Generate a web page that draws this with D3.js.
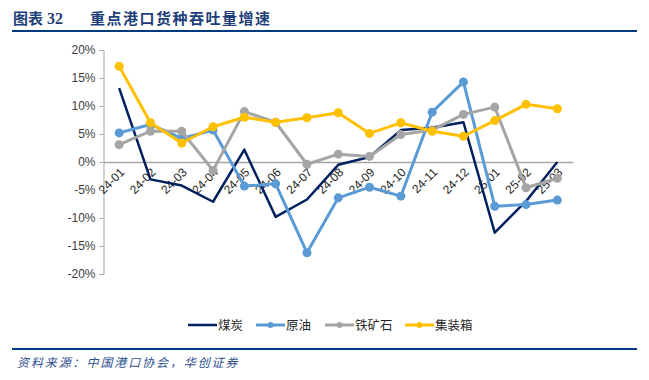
<!DOCTYPE html>
<html><head><meta charset="utf-8">
<script src="https://cdn.jsdelivr.net/npm/d3@7/dist/d3.min.js"></script>
<style>
html,body{margin:0;padding:0;background:#fff;}
svg{display:block;}
</style></head>
<body>
<svg id="c" width="649" height="380"></svg>
<script>
const categories = ["24-01","24-02","24-03","24-04","24-05","24-06","24-07","24-08","24-09","24-10","24-11","24-12","25-01","25-02","25-03"];
const coal      = [13.2,-3.1,-4.2,-7.1,2.2,-9.8,-6.7,-0.5,0.9,5.7,6.1,7.1,-12.6,-7.0,0.0];
const crudeOil  = [5.2,6.7,4.2,5.7,-4.3,-3.9,-16.2,-6.4,-4.5,-6.1,8.9,14.3,-7.9,-7.6,-6.8];
const ironOre   = [3.1,5.5,5.5,-1.5,9.0,7.1,-0.4,1.4,1.0,4.9,5.7,8.5,9.8,-4.6,-2.9];
const container = [17.1,7.0,3.4,6.3,8.0,7.1,7.9,8.8,5.1,7.0,5.5,4.6,7.4,10.3,9.5];
const yTicks = [-20,-15,-10,-5,0,5,10,15,20];
const seriesNames = ["煤炭","原油","铁矿石","集装箱"];
const titleLabel = "图表";
const titleNumber = "32";
const titleText = "重点港口货种吞吐量增速";
const sourceText = "资料来源：中国港口协会，华创证券";

const series = [
  {name: seriesNames[0], values: coal, color: "#002060", width: 2.5, marker: false},
  {name: seriesNames[1], values: crudeOil, color: "#5b9bd5", width: 3, marker: true},
  {name: seriesNames[2], values: ironOre, color: "#a5a5a5", width: 3, marker: true},
  {name: seriesNames[3], values: container, color: "#ffc000", width: 3, marker: true}
];

const svg = d3.select("#c");
const font = "Arial, 'Liberation Sans', 'Noto Sans CJK SC', sans-serif";
const cjk = "'Noto Sans CJK SC', sans-serif";
const titleColor = "#1f3f7a";

// Title
svg.append("text").attr("x", 13).attr("y", 24)
  .attr("font-family", cjk).attr("font-weight", "bold").attr("font-size", 15)
  .attr("fill", titleColor).text(titleLabel);
svg.append("text").attr("x", 47).attr("y", 24)
  .attr("font-family", "'Liberation Serif', 'DejaVu Serif', serif").attr("font-weight", "bold").attr("font-size", 16)
  .attr("fill", titleColor).text(titleNumber);
svg.append("text").attr("x", 90).attr("y", 24)
  .attr("font-family", cjk).attr("font-weight", "bold").attr("font-size", 15)
  .attr("letter-spacing", 1.5)
  .attr("fill", titleColor).text(titleText);
svg.append("line").attr("x1", 12).attr("x2", 637).attr("y1", 31).attr("y2", 31)
  .attr("stroke", "#003a80").attr("stroke-width", 2);

const x = d3.scaleBand().domain(categories).range([103.5, 573]);
const y = d3.scaleLinear().domain([-20, 20]).range([274, 50]);

// Y axis
const yAxis = d3.axisLeft(y).tickValues(yTicks).tickSize(4).tickPadding(4)
  .tickFormat(d => d + "%");
const ya = svg.append("g").attr("transform", "translate(103.5,0)").call(yAxis);
ya.select(".domain").attr("stroke", "#a6a6a6").attr("d", "M-4,50.5H0.5V274.5H-4");
ya.selectAll(".tick line").attr("stroke", "#a6a6a6");
ya.selectAll(".tick text").attr("font-family", font).attr("font-size", 12).attr("fill", "#404040");

// zero line (category axis)
const xa = svg.append("g").attr("transform", `translate(0,${y(0)})`)
  .call(d3.axisBottom(x).tickSize(0).tickPadding(0));
xa.select(".domain").attr("stroke", "#a6a6a6").attr("stroke-width", 1.5);
xa.selectAll(".tick text")
  .attr("font-family", font).attr("font-size", 12).attr("fill", "#262626")
  .attr("text-anchor", "end").attr("dy", 0).attr("y", 0)
  .attr("transform", "translate(6,11) rotate(-45)");

// Lines
const line = d3.line().x((d, i) => x(categories[i]) + x.bandwidth() / 2).y(d => y(d));
series.forEach(s => {
  svg.append("path").datum(s.values).attr("d", line)
    .attr("fill", "none").attr("stroke", s.color).attr("stroke-width", s.width)
    .attr("stroke-linejoin", "round");
  if (s.marker) {
    svg.append("g").selectAll("circle").data(s.values).join("circle")
      .attr("cx", (d, i) => x(categories[i]) + x.bandwidth() / 2)
      .attr("cy", d => y(d)).attr("r", 4.5).attr("fill", s.color);
  }
});

// Legend
const legendX = [188, 256, 325, 405];
series.forEach((s, i) => {
  const g = svg.append("g").attr("transform", `translate(${legendX[i]},325)`);
  g.append("line").attr("x1", 0).attr("x2", 29).attr("y1", 0).attr("y2", 0)
    .attr("stroke", s.color).attr("stroke-width", s.width);
  if (s.marker) g.append("circle").attr("cx", 14.5).attr("cy", 0).attr("r", 3).attr("fill", s.color);
  g.append("text").attr("x", 30).attr("y", 5).attr("font-family", cjk).attr("font-size", 12.5)
    .attr("fill", "#262626").text(s.name);
});

// Footer
svg.append("line").attr("x1", 12).attr("x2", 637).attr("y1", 349).attr("y2", 349)
  .attr("stroke", "#003a80").attr("stroke-width", 2);
svg.append("text").attr("x", 17).attr("y", 367)
  .attr("font-family", cjk).attr("font-style", "italic").attr("font-size", 12)
  .attr("letter-spacing", 1.9)
  .attr("fill", "#2e4f8f").text(sourceText);
</script>
</body></html>
